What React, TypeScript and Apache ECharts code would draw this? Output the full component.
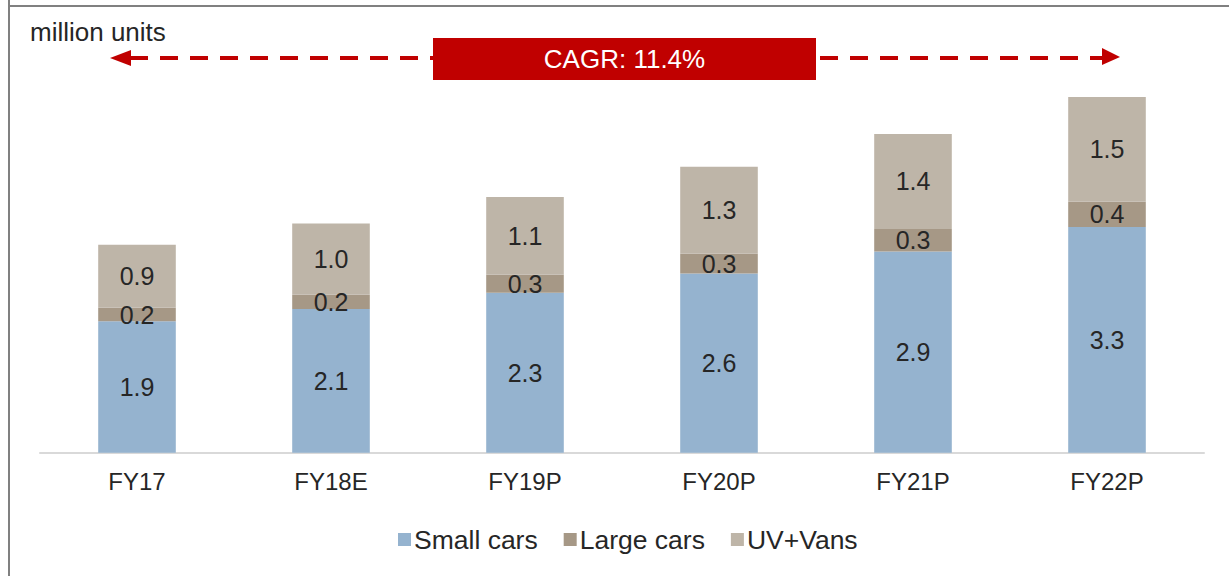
import React, { useEffect, useRef } from "react";
import * as echarts from "echarts";

const categories = ["FY17", "FY18E", "FY19P", "FY20P", "FY21P", "FY22P"];
const smallCars = [1.92, 2.1, 2.34, 2.62, 2.94, 3.3];
const largeCars = [0.2, 0.21, 0.26, 0.29, 0.33, 0.37];
const uvVans = [0.92, 1.04, 1.14, 1.27, 1.39, 1.53];
const seriesNames = ["Small cars", "Large cars", "UV+Vans"];
const unitLabel = "million units";
const cagrLabel = "CAGR: 11.4%";

const colors = ["#95B3CF", "#A69886", "#BEB5A8"];
const FONT = "'Liberation Sans', Arial, sans-serif";

export default function App() {
  const ref = useRef<HTMLDivElement>(null);
  useEffect(() => {
    if (!ref.current) return;
    const chart = echarts.init(ref.current, null, { renderer: "svg" });
    const data = [smallCars, largeCars, uvVans];
    chart.setOption({
      animation: false,
      textStyle: { fontFamily: FONT },
      grid: { left: 40, right: 25, top: 42.3, bottom: 123.3, containLabel: false },
      legend: {
        left: 393,
        top: 521,
        itemWidth: 13,
        itemHeight: 13,
        itemGap: 26,
        icon: "rect",
        textStyle: { fontSize: 26.5, color: "#262626", fontFamily: FONT, padding: [0, 0, 0, -2] },
        data: seriesNames,
      },
      xAxis: {
        type: "category",
        data: categories,
        axisLine: { lineStyle: { color: "#D9D9D9", width: 2 } },
        axisTick: { show: false },
        axisLabel: { fontSize: 24, color: "#262626", margin: 17, fontFamily: FONT },
      },
      yAxis: {
        type: "value",
        min: 0,
        max: 6,
        show: false,
        splitLine: { show: false },
      },
      series: seriesNames.map((name, i) => ({
        name,
        type: "bar",
        stack: "total",
        barWidth: "40%",
        data: data[i],
        itemStyle: { color: colors[i] },
        label: {
          show: true,
          position: "inside",
          fontSize: 25,
          color: "#262626",
          fontFamily: FONT,
          formatter: (p: any) => Number(p.value).toFixed(1),
        },
      })),
      graphic: [
        { type: "line", shape: { x1: 9, y1: 0, x2: 9, y2: 576 }, style: { stroke: "#808080", lineWidth: 2 } },
        { type: "line", shape: { x1: 8, y1: 6, x2: 1229, y2: 6 }, style: { stroke: "#808080", lineWidth: 2 } },
        {
          type: "text",
          left: 30,
          top: 19,
          style: { text: unitLabel, fontSize: 26, fill: "#262626", fontFamily: FONT },
        },
        {
          type: "line",
          shape: { x1: 130, y1: 58, x2: 1104, y2: 58 },
          style: { stroke: "#C00000", lineWidth: 4, lineDash: [18, 12] },
        },
        {
          type: "polygon",
          shape: { points: [[110, 58], [131, 50], [131, 66]] },
          style: { fill: "#C00000" },
        },
        {
          type: "polygon",
          shape: { points: [[1120, 57], [1102, 48], [1102, 65]] },
          style: { fill: "#C00000" },
        },
        {
          type: "rect",
          shape: { x: 433, y: 38, width: 383, height: 42 },
          style: { fill: "#C00000" },
        },
        {
          type: "text",
          x: 624.5,
          y: 59,
          style: {
            text: cagrLabel,
            fontSize: 26,
            fill: "#FFFFFF",
            fontFamily: FONT,
            align: "center",
            verticalAlign: "middle",
          },
        },
      ],
    });
    return () => chart.dispose();
  }, []);
  return (
    <div
      ref={ref}
      style={{ position: "fixed", left: 0, top: 0, width: 1229, height: 576, background: "#fff" }}
    />
  );
}
